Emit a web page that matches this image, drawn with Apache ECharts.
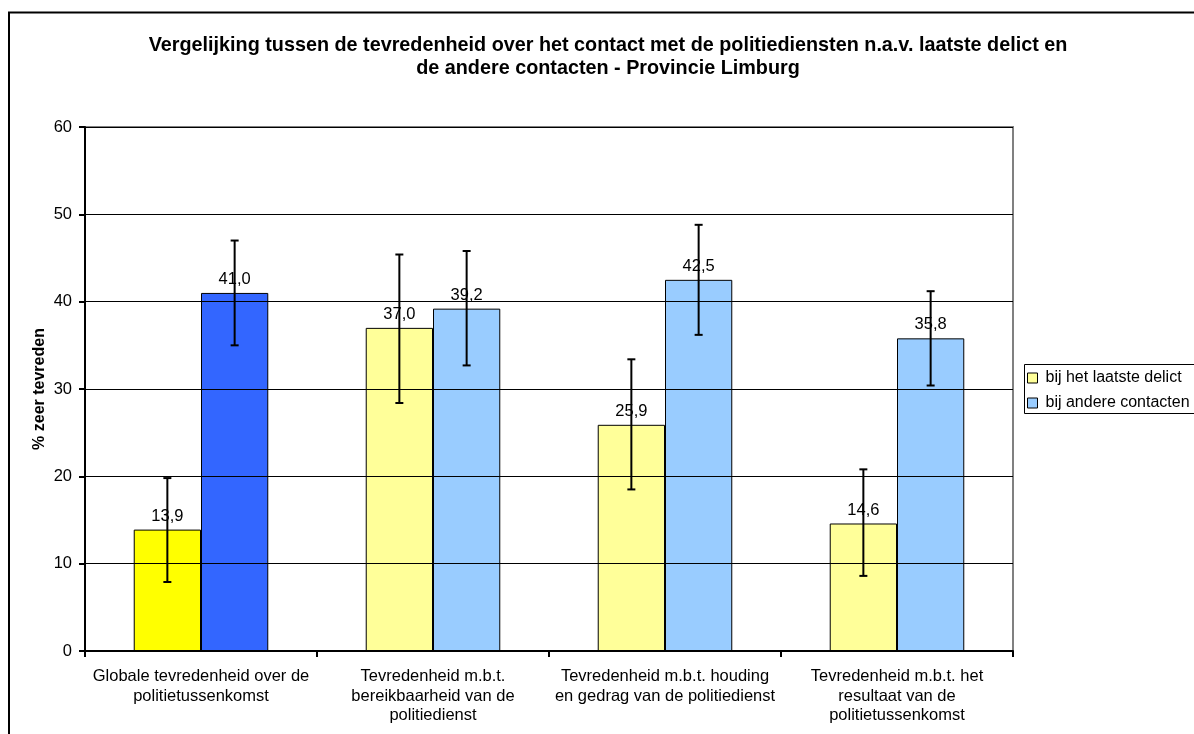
<!DOCTYPE html>
<html>
<head>
<meta charset="utf-8">
<script src="https://cdn.jsdelivr.net/npm/echarts@6/dist/echarts.min.js"></script>
<style>
  html, body { margin: 0; padding: 0; background: #fff; }
  #chart { width: 1194px; height: 734px; }
</style>
</head>
<body>
<div id="chart"></div>
<script>
const FONT = 'Liberation Sans, Arial, sans-serif'

const categories = [
  'Globale tevredenheid over de\npolitietussenkomst',
  'Tevredenheid m.b.t.\nbereikbaarheid van de\npolitiedienst',
  'Tevredenheid m.b.t. houding\nen gedrag van de politiedienst',
  'Tevredenheid m.b.t. het\nresultaat van de\npolitietussenkomst',
]
const seriesNames = ['bij het laatste delict', 'bij andere contacten']
const delict = [13.9, 37.0, 25.9, 14.6]
const andere = [41.0, 39.2, 42.5, 35.8]
// betrouwbaarheidsintervallen (onder / boven)
const delictLow = [7.9, 28.4, 18.5, 8.6]
const delictHigh = [19.8, 45.4, 33.4, 20.8]
const andereLow = [35.0, 32.7, 36.2, 30.4]
const andereHigh = [47.0, 45.8, 48.8, 41.2]
const yTicks = [0, 10, 20, 30, 40, 50, 60]

const BAR_CAT_GAP = 0.42

const fmt = p => p.value.toFixed(1).replace('.', ',')

const errData = (low, high) => low.map((l, i) => [i, l, high[i]])

const errRender = side => (params, api) => {
  const catW = api.size([1, 0])[0]
  const barW = (catW * (1 - BAR_CAT_GAP)) / 2
  const top = api.coord([api.value(0), api.value(2)])
  const bot = api.coord([api.value(0), api.value(1)])
  const x = top[0] + (side * barW) / 2
  const cap = 4
  const st = { stroke: '#000', lineWidth: 2 }
  return {
    type: 'group',
    children: [
      { type: 'line', shape: { x1: x, y1: top[1], x2: x, y2: bot[1] }, style: st },
      { type: 'line', shape: { x1: x - cap, y1: top[1], x2: x + cap, y2: top[1] }, style: st },
      { type: 'line', shape: { x1: x - cap, y1: bot[1], x2: x + cap, y2: bot[1] }, style: st },
    ],
  }
}

const barLabel = {
  show: true,
  position: 'top',
  distance: 5,
  formatter: fmt,
  fontFamily: FONT,
  fontSize: 16.5,
  color: '#000',
}

const options = {
  animation: false,
  backgroundColor: '#fff',
  title: {
    text: 'Vergelijking tussen de tevredenheid over het contact met de politiediensten n.a.v. laatste delict en\nde andere contacten - Provincie Limburg',
    left: 608,
    top: 34,
    padding: 0,
    textAlign: 'center',
    textStyle: { fontFamily: FONT, fontSize: 19.8, fontWeight: 'bold', color: '#000', lineHeight: 23 },
  },
  graphic: [
    {
      type: 'rect',
      silent: true,
      shape: { x: 9, y: 12.5, width: 1400, height: 900 },
      style: { fill: 'none', stroke: '#000', lineWidth: 2 },
    },
    {
      // legendakader, loopt rechts buiten beeld
      type: 'rect',
      silent: true,
      z: 0,
      shape: { x: 1024.5, y: 364.5, width: 300, height: 49 },
      style: { fill: '#fff', stroke: '#000', lineWidth: 1 },
    },
  ],
  legend: {
    data: seriesNames,
    orient: 'vertical',
    left: 1027,
    top: 370,
    padding: 0,
    itemGap: 9,
    itemWidth: 10,
    itemHeight: 10,
    icon: 'rect',
    itemStyle: { borderColor: '#000', borderWidth: 1 },
    textStyle: { fontFamily: FONT, fontSize: 16, color: '#000', padding: [0, 0, 0, 3] },
    z: 10,
  },
  grid: {
    left: 85,
    right: 181,
    top: 127,
    bottom: 83,
    show: true,
    borderColor: '#808080',
    borderWidth: 2,
    backgroundColor: '#fff',
  },
  xAxis: {
    type: 'category',
    data: categories,
    axisLine: { lineStyle: { color: '#000', width: 2 } },
    axisTick: { show: true, length: 6, lineStyle: { color: '#000', width: 2 } },
    axisLabel: {
      interval: 0,
      margin: 16,
      fontFamily: FONT,
      fontSize: 16.5,
      color: '#000',
      lineHeight: 19.5,
      align: 'center',
    },
    z: 5,
  },
  yAxis: {
    type: 'value',
    min: yTicks[0],
    max: yTicks[yTicks.length - 1],
    interval: 10,
    name: '% zeer tevreden',
    nameLocation: 'middle',
    nameRotate: 90,
    nameGap: 37,
    nameMoveOverlap: false,
    nameTextStyle: { fontFamily: FONT, fontSize: 16, fontWeight: 'bold', color: '#000' },
    axisLine: { show: true, lineStyle: { color: '#000', width: 2 } },
    axisTick: { show: true, length: 6, lineStyle: { color: '#000', width: 2 } },
    axisLabel: { margin: 13, fontFamily: FONT, fontSize: 16.5, color: '#000' },
    splitLine: { show: true, lineStyle: { color: '#000', width: 1 } },
    z: 5,
  },
  series: [
    {
      name: seriesNames[0],
      type: 'bar',
      barGap: '0%',
      barCategoryGap: BAR_CAT_GAP * 100 + '%',
      data: delict.map((v, i) => (i === 0 ? { value: v, itemStyle: { color: '#FFFF00' } } : v)),
      itemStyle: { color: '#FFFF99', borderColor: '#000', borderWidth: 1 },
      label: barLabel,
      z: 2,
    },
    {
      name: seriesNames[1],
      type: 'bar',
      barGap: '0%',
      barCategoryGap: BAR_CAT_GAP * 100 + '%',
      data: andere.map((v, i) => (i === 0 ? { value: v, itemStyle: { color: '#3366FF' } } : v)),
      itemStyle: { color: '#99CCFF', borderColor: '#000', borderWidth: 1 },
      label: barLabel,
      z: 2,
    },
    {
      name: 'err1',
      type: 'custom',
      renderItem: errRender(-1),
      encode: { x: 0, y: [1, 2] },
      data: errData(delictLow, delictHigh),
      z: 10,
      silent: true,
    },
    {
      name: 'err2',
      type: 'custom',
      renderItem: errRender(1),
      encode: { x: 0, y: [1, 2] },
      data: errData(andereLow, andereHigh),
      z: 10,
      silent: true,
    },
  ],
}

const chart = echarts.init(document.getElementById('chart'))
chart.setOption(options)
window.onresize = function () {
  chart.resize()
}
</script>
</body>
</html>
